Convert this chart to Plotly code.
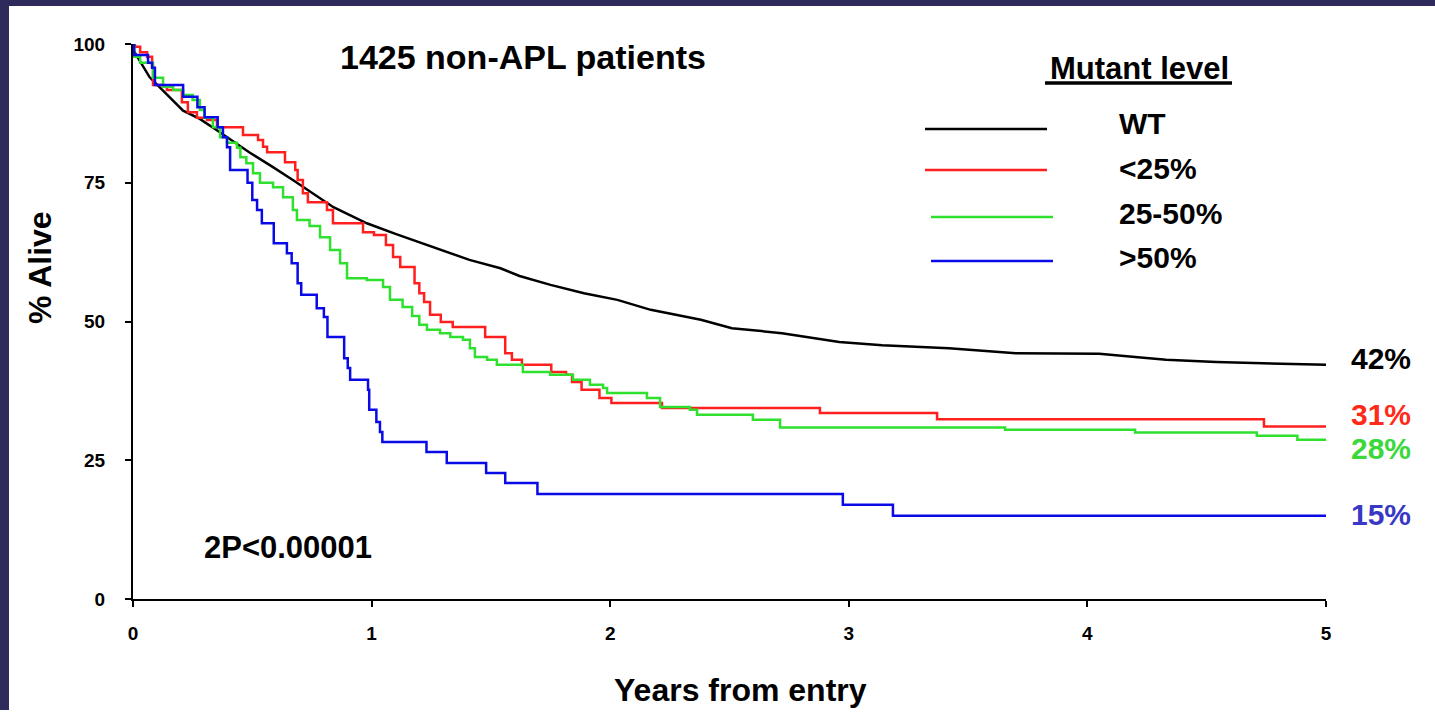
import plotly.graph_objects as go

# ---------------- data ----------------
wt_t = [0, 0.07, 0.21, 0.28, 0.35, 0.49, 0.58, 0.67, 0.84, 0.98, 1.10, 1.26, 1.33, 1.41, 1.54, 1.62,
        1.75, 1.89, 2.03, 2.17, 2.38, 2.51, 2.72, 2.96, 3.14, 3.42, 3.70, 3.84, 4.05, 4.20, 4.33,
        4.54, 4.78, 5.0]
wt_s = [99.0, 94.0, 88.0, 86.5, 84.5, 80.4, 78.0, 75.5, 70.6, 67.7, 65.8, 63.4, 62.3, 61.1, 59.6, 58.2,
        56.6, 55.1, 53.9, 52.1, 50.3, 48.8, 47.9, 46.3, 45.7, 45.2, 44.3, 44.3, 44.2, 43.6, 43.1,
        42.7, 42.5, 42.2]

lt25_t = [0, 0.008, 0.03, 0.059, 0.08, 0.084, 0.126, 0.142, 0.205, 0.23, 0.268, 0.31, 0.352, 0.461,
          0.524, 0.545, 0.562, 0.637, 0.68, 0.69, 0.712, 0.733, 0.813, 0.838, 0.964, 1.01, 1.06,
          1.09, 1.12, 1.18, 1.20, 1.22, 1.245, 1.29, 1.34, 1.476, 1.56, 1.588, 1.63, 1.753, 1.815,
          1.84, 1.88, 1.955, 2.005, 2.217, 2.879, 3.37, 4.74, 5.0]
lt25_s = [100, 99.5, 98.5, 97.7, 95.9, 92.6, 92.3, 91.7, 89.5, 87.7, 86.7, 86.3, 85.0, 83.6,
          82.7, 81.5, 80.5, 78.7, 77.3, 75.5, 73.1, 71.5, 70.1, 67.7, 66.1, 65.6, 63.8,
          61.6, 59.8, 56.9, 55.1, 53.5, 51.2, 49.9, 49.0, 47.2, 44.3, 43.1, 42.2, 40.9, 40.4,
          39.1, 37.7, 36.2, 35.3, 34.4, 33.5, 32.4, 31.1, 31.1]

m25_50_t = [0, 0.005, 0.03, 0.084, 0.126, 0.168, 0.21, 0.25, 0.28, 0.30, 0.335, 0.365, 0.394, 0.436,
            0.45, 0.475, 0.503, 0.532, 0.587, 0.629, 0.67, 0.687, 0.74, 0.784, 0.826, 0.868, 0.897,
            0.98, 1.048, 1.077, 1.13, 1.17, 1.20, 1.232, 1.287, 1.33, 1.383, 1.412, 1.433, 1.484,
            1.525, 1.634, 1.748, 1.844, 1.915, 1.97, 1.987, 2.154, 2.209, 2.334, 2.364, 2.598,
            2.712, 3.655, 4.20, 4.71, 4.88, 5.0]
m25_50_s = [100, 97.7, 96.6, 93.9, 92.3, 91.7, 90.8, 89.9, 88.1, 86.7, 85.0, 83.2, 82.2, 81.3,
            79.6, 78.5, 76.7, 75.0, 74.2, 72.4, 70.1, 68.3, 67.2, 65.2, 62.9, 60.5, 57.8,
            57.5, 56.2, 53.9, 52.6, 51.0, 49.4, 48.5, 47.9, 47.2, 46.7, 45.2, 43.6, 43.1,
            42.2, 40.9, 40.4, 39.5, 38.6, 38.0, 37.1, 36.2, 34.6, 34.1, 33.2, 32.3,
            30.9, 30.5, 30.0, 29.4, 28.7, 28.7]

gt50_t = [0, 0.005, 0.063, 0.08, 0.092, 0.21, 0.27, 0.30, 0.355, 0.377, 0.394, 0.407, 0.48, 0.50,
          0.52, 0.54, 0.59, 0.645, 0.665, 0.69, 0.705, 0.77, 0.80, 0.815, 0.885, 0.90, 0.91,
          0.985, 0.99, 1.02, 1.035, 1.045, 1.23, 1.315, 1.48, 1.56, 1.695, 2.975, 3.185, 5.0]
gt50_s = [100, 98.0, 96.6, 95.7, 92.6, 90.5, 88.6, 86.8, 85.0, 83.2, 81.4, 77.3, 75.0, 71.9,
          70.1, 67.7, 64.1, 62.3, 60.5, 56.9, 54.8, 52.4, 50.8, 47.2, 43.4, 41.6, 39.5,
          37.7, 34.1, 31.9, 30.1, 28.3, 26.5, 24.5, 22.7, 20.9, 18.9, 17.0, 15.0, 15.0]

group_names = ["WT", "&lt;25%", "25-50%", "&gt;50%"]
end_labels = ["42%", "31%", "28%", "15%"]
x_ticks = [0, 1, 2, 3, 4, 5]
y_ticks = [0, 25, 50, 75, 100]

# ---------------- styling ----------------
W, H = 1435, 714
L, R, T, B = 133, 1326, 44, 599          # plot area in pixels
FONT = "Liberation Sans, Arial, Helvetica, sans-serif"
line_cols = ["#000000", "#ff1f1f", "#2fe02f", "#0a0ae6"]
label_cols = ["#000000", "#ff2a1a", "#3ad83a", "#3838c4"]
NAVY = "#2e2a5c"


def px(x):
    return (x - L) / (R - L)


def py(y):
    return (B - y) / (B - T)


fig = go.Figure()
series = [(wt_t, wt_s, "linear"), (lt25_t, lt25_s, "hv"),
          (m25_50_t, m25_50_s, "hv"), (gt50_t, gt50_s, "hv")]
for (t, s, shape), col in zip(series, line_cols):
    fig.add_trace(go.Scatter(x=t, y=s, mode="lines", line=dict(color=col, width=2.5, shape=shape),
                             showlegend=False, hoverinfo="skip"))

shapes = []
# frame (dark border of the slide)
shapes.append(dict(type="rect", xref="paper", yref="paper", x0=px(0), x1=px(W), y0=py(6), y1=py(0),
                   fillcolor=NAVY, line=dict(width=0), layer="above"))
shapes.append(dict(type="rect", xref="paper", yref="paper", x0=px(0), x1=px(9), y0=py(710), y1=py(0),
                   fillcolor=NAVY, line=dict(width=0), layer="above"))
# legend samples
leg_lines = [(925, 1047, 129), (925, 1047, 170), (931, 1053, 217), (931, 1053, 261)]
for (x0, x1, yy), col in zip(leg_lines, line_cols):
    shapes.append(dict(type="line", xref="paper", yref="paper", x0=px(x0), x1=px(x1), y0=py(yy), y1=py(yy),
                       line=dict(color=col, width=2.5)))
# underline of legend title
shapes.append(dict(type="line", xref="paper", yref="paper", x0=px(1045), x1=px(1232), y0=py(83), y1=py(83),
                   line=dict(color="black", width=3.5)))

ann = []


def txt(text, x, y, size, color="black", xanchor="center", angle=0):
    ann.append(dict(text="<b>" + text + "</b>", x=px(x), y=py(y), xref="paper", yref="paper",
                    showarrow=False, xanchor=xanchor, yanchor="middle", textangle=angle,
                    font=dict(family=FONT, size=size, color=color)))


txt("1425 non-APL patients", 523, 57, 34)
txt("Mutant level", 1139, 68, 31)
for name, yy in zip(group_names, [124, 168, 213, 257]):
    txt(name, 1117, yy, 30, xanchor="left")
for lab, col, yy in zip(end_labels, label_cols, [358, 414, 448, 514]):
    txt(lab, 1349, yy, 30, color=col, xanchor="left")
txt("2P&lt;0.00001", 288, 547, 31)
txt("% Alive", 40, 268, 32, angle=-90)
txt("Years from entry", 740, 690, 32)

fig.update_layout(
    width=W, height=H, autosize=False,
    margin=dict(l=L, r=W - R, t=T, b=H - B, pad=0),
    paper_bgcolor="white", plot_bgcolor="white",
    shapes=shapes, annotations=ann,
    xaxis=dict(range=[0, 5], tickvals=x_ticks, showgrid=False, zeroline=False,
               showline=True, linecolor="black", linewidth=2, ticks="outside", ticklen=6,
               tickwidth=2, tickcolor="black", ticklabelstandoff=10,
               tickfont=dict(family=FONT, size=19, color="black", weight="bold")),
    yaxis=dict(range=[0, 100], tickvals=y_ticks, showgrid=False, zeroline=False,
               showline=True, linecolor="black", linewidth=2, ticks="outside", ticklen=6,
               tickwidth=2, tickcolor="black", ticklabelstandoff=16,
               tickfont=dict(family=FONT, size=19, color="black", weight="bold")),
)

fig.write_html("out.html")
